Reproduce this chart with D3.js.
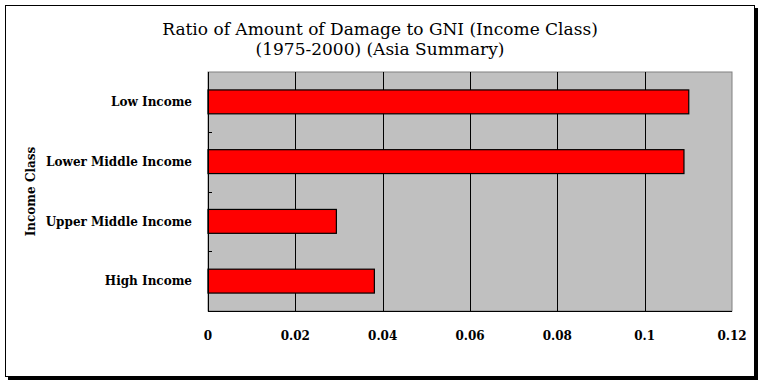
<!DOCTYPE html>
<html>
<head>
<meta charset="utf-8">
<script src="https://cdn.jsdelivr.net/npm/d3@7"></script>
<style>
  body { margin: 0; background: #fff; }
  text { font-family: "DejaVu Serif", "Liberation Serif", serif; fill: #000; }
</style>
</head>
<body>
<svg id="chart" width="763" height="385"></svg>
<script>
// Chart values
var categories = ["Low Income", "Lower Middle Income", "Upper Middle Income", "High Income"];
var ratios = [0.1101, 0.1090, 0.0294, 0.0381];
var xTicks = [0, 0.02, 0.04, 0.06, 0.08, 0.1, 0.12];
var titleLines = ["Ratio of Amount of Damage to GNI (Income Class)", "(1975-2000) (Asia Summary)"];
var yTitle = "Income Class";

var svg = d3.select("#chart");

// Frame with drop shadow
svg.append("rect")
    .attr("x", 8).attr("y", 8)
    .attr("width", 750).attr("height", 372)
    .attr("fill", "#000");
svg.append("rect")
    .attr("x", 5.5).attr("y", 5.5)
    .attr("width", 749).attr("height", 371)
    .attr("fill", "#fff")
    .attr("stroke", "#000")
    .attr("stroke-width", 1);

var plot = { left: 208, top: 72, right: 732, bottom: 311 };

var x = d3.scaleLinear()
    .domain([0, 0.12])
    .range([plot.left, plot.right]);

var y = d3.scaleBand()
    .domain(categories)
    .range([plot.top, plot.bottom])
    .paddingInner(0.6)
    .paddingOuter(0.3);

// Plot background
svg.append("rect")
    .attr("x", plot.left).attr("y", plot.top)
    .attr("width", plot.right - plot.left)
    .attr("height", plot.bottom - plot.top)
    .attr("fill", "#c0c0c0")
    .attr("stroke", "#808080")
    .attr("stroke-width", 1);

// Vertical gridlines
svg.append("g")
  .selectAll("line")
  .data(xTicks.slice(1, -1))
  .join("line")
    .attr("x1", function (d) { return Math.round(x(d)) + 0.5; })
    .attr("x2", function (d) { return Math.round(x(d)) + 0.5; })
    .attr("y1", plot.top)
    .attr("y2", plot.bottom)
    .attr("stroke", "#000")
    .attr("stroke-width", 1);

// Bars
svg.append("g")
  .selectAll("rect")
  .data(categories)
  .join("rect")
    .attr("x", x(0))
    .attr("y", function (d) { return y(d); })
    .attr("width", function (d, i) { return x(ratios[i]) - x(0); })
    .attr("height", y.bandwidth())
    .attr("fill", "#ff0000")
    .attr("stroke", "#000")
    .attr("stroke-width", 1.2);

// Y axis: line, inner ticks at category boundaries, labels
var step = y.step();
var yAxis = svg.append("g");
yAxis.append("line")
    .attr("x1", plot.left + 0.5).attr("x2", plot.left + 0.5)
    .attr("y1", plot.top).attr("y2", plot.bottom)
    .attr("stroke", "#000");
yAxis.selectAll("line.tick")
  .data(categories.slice(1))
  .join("line")
    .attr("class", "tick")
    .attr("x1", plot.left).attr("x2", plot.left + 4)
    .attr("y1", function (d) { return Math.round(y(d) - step * y.paddingInner() / 2) + 0.5; })
    .attr("y2", function (d) { return Math.round(y(d) - step * y.paddingInner() / 2) + 0.5; })
    .attr("stroke", "#000");
yAxis.selectAll("text")
  .data(categories)
  .join("text")
    .attr("x", 192)
    .attr("y", function (d) { return y(d) + y.bandwidth() / 2; })
    .attr("dy", "0.35em")
    .attr("text-anchor", "end")
    .attr("font-size", 12)
    .attr("font-weight", "bold")
    .text(function (d) { return d; });

// X axis: line and labels
var xAxis = svg.append("g");
xAxis.append("line")
    .attr("x1", plot.left).attr("x2", plot.right)
    .attr("y1", plot.bottom + 0.5).attr("y2", plot.bottom + 0.5)
    .attr("stroke", "#000");
xAxis.selectAll("text")
  .data(xTicks)
  .join("text")
    .attr("x", function (d) { return x(d); })
    .attr("y", 340)
    .attr("text-anchor", "middle")
    .attr("font-size", 12)
    .attr("font-weight", "bold")
    .text(function (d) { return d3.format("")(d); });

// Titles
svg.append("g")
  .selectAll("text")
  .data(titleLines)
  .join("text")
    .attr("x", 380)
    .attr("y", function (d, i) { return 35 + i * 20; })
    .attr("text-anchor", "middle")
    .attr("font-size", 17)
    .text(function (d) { return d; });

svg.append("text")
    .attr("transform", "translate(35," + ((plot.top + plot.bottom) / 2) + ") rotate(-90)")
    .attr("text-anchor", "middle")
    .attr("font-size", 12)
    .attr("font-weight", "bold")
    .text(yTitle);
</script>
</body>
</html>
